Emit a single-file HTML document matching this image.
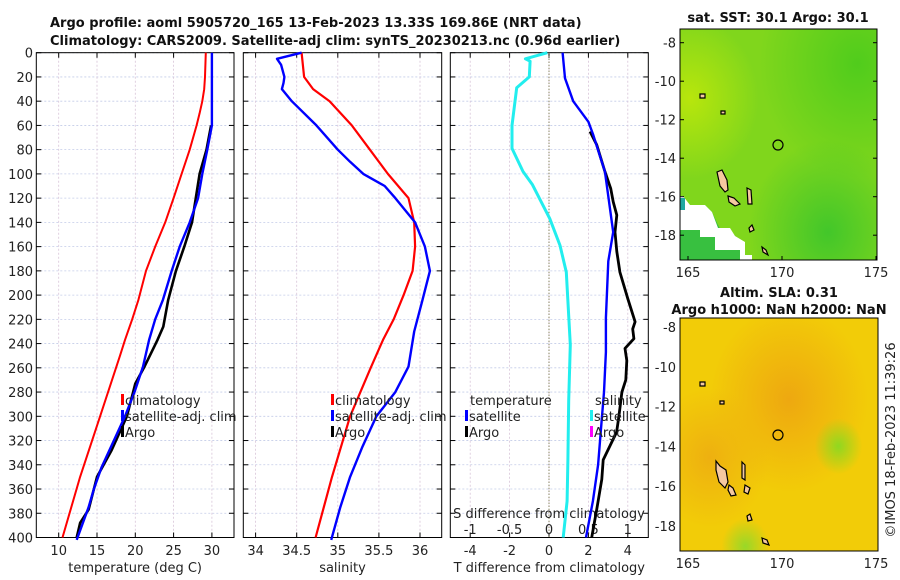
<!DOCTYPE html>
<html><head><meta charset="utf-8">
<style>
body{margin:0;background:#fff;}
svg{display:block;font-family:"DejaVu Sans","Liberation Sans",sans-serif;}
.tk{font-size:13px;fill:#222;}
.ttl{font-size:13px;font-weight:bold;fill:#111;}
</style></head>
<body>
<svg id="chart" width="900" height="580" viewBox="0 0 900 580">
<defs>
<radialGradient id="g1" cx="0.9" cy="0.15" r="0.5"><stop offset="0" stop-color="#3cc81c" stop-opacity="0.7"/><stop offset="1" stop-color="#3cc81c" stop-opacity="0"/></radialGradient>
<radialGradient id="g2" cx="0.05" cy="0.3" r="0.35"><stop offset="0" stop-color="#b8e60c"/><stop offset="1" stop-color="#b8e60c" stop-opacity="0"/></radialGradient>
<radialGradient id="g3" cx="0.75" cy="0.88" r="0.4"><stop offset="0" stop-color="#28c030" stop-opacity="0.7"/><stop offset="1" stop-color="#28c030" stop-opacity="0"/></radialGradient>
<radialGradient id="o1" cx="0.55" cy="0.35" r="0.4"><stop offset="0" stop-color="#eea810"/><stop offset="1" stop-color="#eea810" stop-opacity="0"/></radialGradient>
<radialGradient id="o2" cx="0.15" cy="0.6" r="0.3"><stop offset="0" stop-color="#eeb010"/><stop offset="1" stop-color="#eeb010" stop-opacity="0"/></radialGradient>
<radialGradient id="gr1" cx="0.8" cy="0.55" r="0.12"><stop offset="0" stop-color="#90d820"/><stop offset="1" stop-color="#90d820" stop-opacity="0"/></radialGradient>
<radialGradient id="gr2" cx="0.33" cy="0.98" r="0.12"><stop offset="0" stop-color="#98d828"/><stop offset="1" stop-color="#98d828" stop-opacity="0"/></radialGradient>
</defs>
<text class="ttl" x="50" y="27">Argo profile: aoml 5905720_165 13-Feb-2023 13.33S 169.86E (NRT data)</text>
<text class="ttl" x="50" y="45">Climatology: CARS2009. Satellite-adj clim: synTS_20230213.nc (0.96d earlier)</text>
<g id="plots"></g>

<!-- top map -->
<g>
<text class="ttl" x="778" y="22" text-anchor="middle">sat. SST: 30.1 Argo: 30.1</text>
<rect x="680" y="29" width="197" height="231" fill="#80d61c"/>
<rect x="680" y="29" width="197" height="231" fill="url(#g1)"/>
<rect x="680" y="29" width="197" height="231" fill="url(#g2)"/>
<rect x="680" y="29" width="197" height="231" fill="url(#g3)"/>
<polygon points="680,225 690,222 705,205 712,212 718,225 724,235 735,240 740,250 745,255 748,260 680,260" fill="#38c040"/>
<polygon points="680,196 683,196 690,205 705,205 712,212 718,228 730,228 735,236 745,242 745,255 752,255 752,260 740,260 740,250 715,250 715,237 700,237 700,230 680,230" fill="#fff"/>
<rect x="680" y="198" width="5" height="12" fill="#20a8a0"/>
<g fill="#f5c8a0" stroke="#000" stroke-width="1.2">
<path d="M717,172 L722,170 L727,180 L728,190 L725,192 L720,186 Z"/>
<path d="M728,196 L734,198 L740,204 L735,206 L729,202 Z"/>
<path d="M747,188 L751,190 L752,204 L748,204 Z"/>
<path d="M749,228 L752,225 L754,230 L750,232 Z"/>
<path d="M762,247 L766,250 L768,255 L763,252 Z"/>
<path d="M700,94 L705,94 L705,98 L700,98 Z"/>
<path d="M721,111 L725,111 L725,114 L721,114 Z"/>
</g>
<circle cx="778" cy="145" r="5" fill="none" stroke="#000" stroke-width="1.2"/>
<rect x="680" y="29" width="197" height="231" fill="none" stroke="#000"/>
</g>
<g id="mapaxes"></g>

<!-- bottom map -->
<g>
<text class="ttl" x="779" y="297" text-anchor="middle">Altim. SLA: 0.31</text>
<text class="ttl" x="779" y="314" text-anchor="middle">Argo h1000: NaN h2000: NaN</text>
<rect x="680" y="318" width="198" height="233" fill="#f2cc08"/>
<rect x="680" y="318" width="198" height="233" fill="url(#o1)"/>
<rect x="680" y="318" width="198" height="233" fill="url(#o2)"/>
<rect x="680" y="318" width="198" height="233" fill="url(#gr1)"/>
<rect x="680" y="318" width="198" height="233" fill="url(#gr2)"/>
<g fill="#f5c8a0" stroke="#000" stroke-width="1.2">
<path d="M716,461 L720,466 L726,470 L728,482 L725,488 L719,482 L716,470 Z"/>
<path d="M729,485 L733,488 L736,495 L731,496 L728,490 Z"/>
<path d="M745,485 L750,488 L748,494 L744,492 Z"/>
<path d="M747,516 L750,514 L752,520 L748,521 Z"/>
<path d="M762,538 L767,540 L769,545 L763,543 Z"/>
<path d="M700,382 L705,382 L705,386 L700,386 Z"/>
<path d="M720,401 L724,401 L724,404 L720,404 Z"/>
<path d="M742,462 L745,465 L745,480 L742,478 Z"/>
</g>
<circle cx="778" cy="435" r="5" fill="none" stroke="#000" stroke-width="1.2"/>
<rect x="680" y="318" width="198" height="233" fill="none" stroke="#000"/>
</g>
<text x="895" y="440" font-size="13" fill="#222" text-anchor="middle" transform="rotate(-90 895 440)">©IMOS 18-Feb-2023 11:39:26</text>
</svg>
<script>
// ---- data ----
const tempClimDepth = [0,20,30,40,50,60,80,100,120,140,160,180,204,220,237,250,300,350,400];
const tempClim = [29.2,29.1,29.0,28.75,28.4,28.0,27.1,26.05,25.0,23.9,22.6,21.4,20.4,19.6,18.66,18.0,15.4,12.8,10.5];
const tempSatDepth = [0,20,40,60,80,100,120,140,160,180,204,220,237,259,280,300,320,342,360,375,402];
const tempSat = [30.0,30.0,30.0,30.0,29.4,28.75,28.2,27.1,25.8,24.75,23.6,22.6,21.8,21.0,19.9,18.65,17.2,15.6,14.6,13.9,12.35];
const tempArgoDepth = [60,70,80,100,120,140,160,180,204,226,237,259,273,300,328,350,377,388,400];
const tempArgo = [29.9,29.6,29.3,28.4,27.9,27.4,26.4,25.3,24.3,23.65,22.9,21.2,20.0,18.9,16.9,15.0,13.9,12.8,12.35];
const salClimDepth = [0,20,30,40,60,80,100,120,140,160,180,200,220,237,260,300,350,400];
const salClim = [34.56,34.59,34.70,34.9,35.17,35.39,35.61,35.86,35.93,35.94,35.91,35.80,35.68,35.55,35.40,35.15,34.93,34.73];
const salSatDepth = [0,5,10,20,25,30,40,60,80,90,100,110,120,140,160,180,204,230,259,280,300,325,350,375,402];
const salSat = [34.56,34.26,34.31,34.35,34.34,34.32,34.44,34.74,35.0,35.15,35.31,35.57,35.70,35.94,36.06,36.12,36.03,35.93,35.86,35.70,35.47,35.3,35.15,35.03,34.92];
const diffSDepth = [0,5,7,20,29,60,79,98,109,137,159,181,241,287,336,370,400];
const diffSSat = [-0.02,-0.30,-0.24,-0.25,-0.41,-0.47,-0.47,-0.33,-0.21,0.01,0.14,0.22,0.27,0.25,0.24,0.23,0.18];
const diffTSatDepth = [0,21,40,57,68,98,148,172,219,247,280,300,340,370,400];
const diffTSat = [0.69,0.81,1.23,2.0,2.25,2.84,3.26,3.01,2.89,2.89,2.79,2.69,2.49,2.23,1.88];
const diffTArgoDepth = [65,76,98,112,123,134,148,164,181,203,222,228,236,244,254,270,280,300,313,336,352,377,400];
const diffTArgo = [2.08,2.42,2.84,3.13,3.26,3.44,3.35,3.44,3.6,4.0,4.37,4.25,4.31,3.86,3.95,3.9,3.7,3.55,3.43,2.75,2.68,2.42,2.17];
const depthTicks = [0,20,40,60,80,100,120,140,160,180,200,220,240,260,280,300,320,340,360,380,400];
const tempTicks = [10,15,20,25,30];
const salTicks = [34,34.5,35,35.5,36];
const tdTicks = [-4,-2,0,2,4];
const sdTicks = [-1,-0.5,0,0.5,1];
const latTicks = [-8,-10,-12,-14,-16,-18];
const lonTicks = [165,170,175];

// ---- scales ----
const Y0=52.7, Y1=537.5;
const yD = d => Y0 + d*(Y1-Y0)/400;
const xT = t => 58.7 + (t-10)*7.66;
const xS = s => 255.6 + (s-34)*82.2;
const xTd = t => 549 + t*19.7;
const xSd = s => 549 + s*78.8;
const NS='http://www.w3.org/2000/svg';
const g=document.getElementById('plots');
function mk(tag,attrs,parent){const e=document.createElementNS(NS,tag);for(const k in attrs)e.setAttribute(k,attrs[k]);(parent||g).appendChild(e);return e;}

const panels=[{x0:36.3,x1:234,ticks:tempTicks,sc:xT,lab:'temperature (deg C)',name:'temperature-panel'},
{x0:243.3,x1:441.7,ticks:salTicks,sc:xS,lab:'salinity',name:'salinity-panel'},
{x0:450.3,x1:648.3,ticks:tdTicks,sc:xTd,lab:'T difference from climatology',name:'difference-panel'}];
panels.forEach((p,i)=>{
  const pg=mk('g',{});
  
  
  depthTicks.forEach(d=>{
    const l=mk('line',{x1:p.x0,x2:p.x1,y1:yD(d),y2:yD(d),stroke:'#c4cce8','stroke-width':0.8,'stroke-dasharray':'2,2'},pg);
    
    
    mk('line',{x1:p.x0,x2:p.x0+5,y1:yD(d),y2:yD(d),stroke:'#000'},pg);
    mk('line',{x1:p.x1-5,x2:p.x1,y1:yD(d),y2:yD(d),stroke:'#000'},pg);
  });
  p.ticks.forEach(t=>{
    const x=p.sc(t);
    const l=mk('line',{x1:x,x2:x,y1:Y0,y2:Y1,stroke:'#d8c4d8','stroke-width':0.8,'stroke-dasharray':'2,2'},pg);
    
    
    mk('line',{x1:x,x2:x,y1:Y1-5,y2:Y1,stroke:'#000'},pg);
    mk('line',{x1:x,x2:x,y1:Y0,y2:Y0+5,stroke:'#000'},pg);
    const tx=mk('text',{x:x,y:555,'text-anchor':'middle',class:'tk'},pg);
    tx.textContent=String(t);
    
    
  });
  const xl=mk('text',{x:(p.x0+p.x1)/2,y:572,'text-anchor':'middle',class:'tk'},pg);
  xl.textContent=p.lab;
  
  
  mk('rect',{x:p.x0,y:Y0,width:p.x1-p.x0,height:Y1-Y0,fill:'none',stroke:'#000'},pg);
});
depthTicks.forEach(d=>{
  const t=mk('text',{x:33,y:yD(d)+5,'text-anchor':'end',class:'tk'});
  t.textContent=String(d);
  
  
});
// zero line in diff panel
const zl=mk('line',{x1:xTd(0),x2:xTd(0),y1:Y0,y2:Y1,stroke:'#666633','stroke-dasharray':'1,2'});


// S diff secondary axis
sdTicks.forEach(s=>{
  const t=mk('text',{x:xSd(s),y:534,'text-anchor':'middle',class:'tk'});
  t.textContent=String(s);
  
  
});
const st=mk('text',{x:549,y:518,'text-anchor':'middle',class:'tk'});
st.textContent='S difference from climatology';



function line(depths,vals,sc,color,name,w){
  const pts=depths.map((d,i)=>sc(vals[i]).toFixed(1)+','+yD(d).toFixed(1)).join(' ');
  const p=mk('polyline',{points:pts,fill:'none',stroke:color,'stroke-width':w||2.6,'stroke-linejoin':'round'});
  
  
}
line(tempClimDepth,tempClim,xT,'#f00','temp-climatology-line',2);
line(tempArgoDepth,tempArgo,xT,'#000','temp-argo-line',2.6);
line(tempSatDepth,tempSat,xT,'#00f','temp-satellite-line',2.4);
line(salClimDepth,salClim,xS,'#f00','sal-climatology-line',2.2);
line(salSatDepth,salSat,xS,'#00f','sal-satellite-line',2.4);
line(diffSDepth,diffSSat,xSd,'#22eeee','s-diff-satellite-line',3);
line(diffTArgoDepth,diffTArgo,xTd,'#000','t-diff-argo-line',2.8);
line(diffTSatDepth,diffTSat,xTd,'#00f','t-diff-satellite-line',2.4);

function legend(x,y,color,label){
  const lg=mk('g',{});
  
  
  mk('rect',{x:x,y:y-11,width:3,height:11,fill:color},lg);
  const t=mk('text',{x:x+4,y:y,class:'tk'},lg);
  t.textContent=label;
}
legend(121,405,'#f00','climatology');legend(121,421,'#00f','satellite-adj. clim');legend(121,437,'#000','Argo');
legend(331,405,'#f00','climatology');legend(331,421,'#00f','satellite-adj. clim');legend(331,437,'#000','Argo');
const lt=mk('text',{x:470,y:405,class:'tk'});lt.textContent='temperature';

const ls=mk('text',{x:595,y:405,class:'tk'});ls.textContent='salinity';

legend(465,421,'#00f','satellite');legend(465,437,'#000','Argo');
legend(590,421,'#22eeee','satellite');legend(590,437,'#ff00ff','Argo');

// map axes
const ma=document.getElementById('mapaxes');
[{y0:29,y1:260,lat0:42.7,dlat:19.25},{y0:318,y1:551,lat0:327,dlat:19.9}].forEach((m,mi)=>{
  latTicks.forEach(l=>{
    const y=m.lat0+(-8-l)*m.dlat;
    mk('line',{x1:877-4,x2:877,y1:y,y2:y,stroke:'#000'},ma);
    mk('line',{x1:680,x2:684,y1:y,y2:y,stroke:'#000'},ma);
    const t=mk('text',{x:676,y:y+5,'text-anchor':'end',class:'tk'},ma);
    t.textContent=String(l);
    
    
  });
  lonTicks.forEach(l=>{
    const x=688+(l-165)*18.8;
    mk('line',{x1:x,x2:x,y1:m.y1-4,y2:m.y1,stroke:'#000'},ma);
    const t=mk('text',{x:x,y:m.y1+17,'text-anchor':'middle',class:'tk'},ma);
    t.textContent=String(l);
    
    
  });
});
</script>
</body></html>
